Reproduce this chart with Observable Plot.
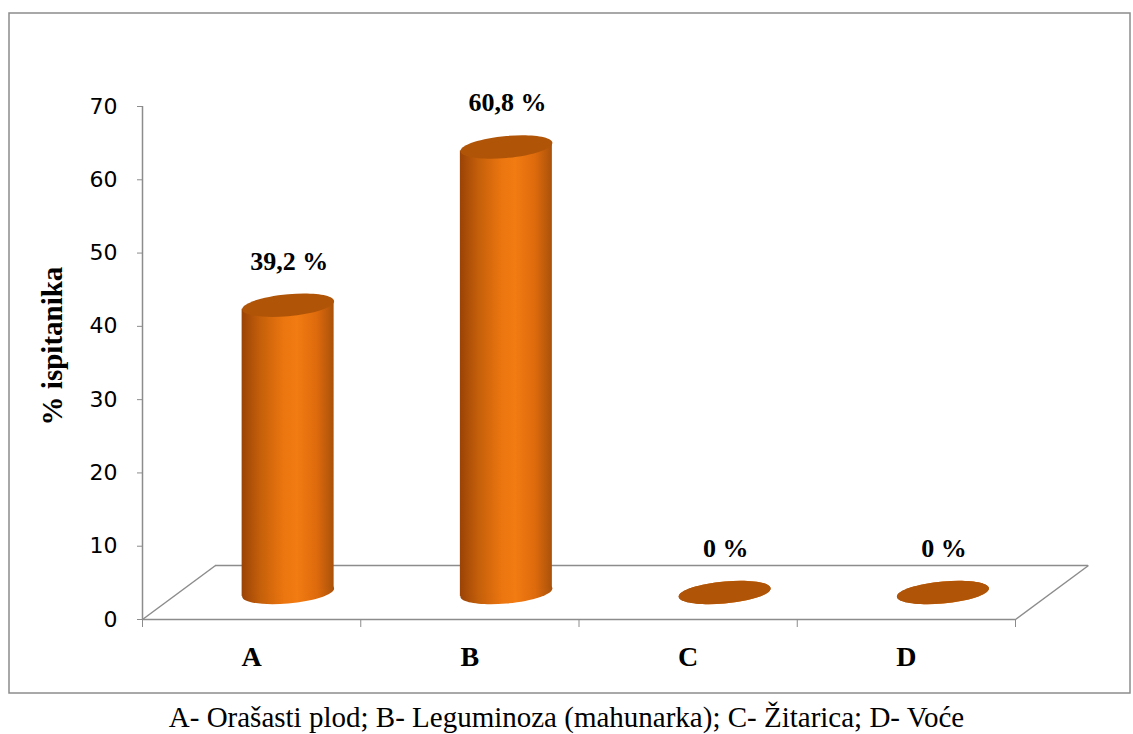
<!DOCTYPE html>
<html><head><meta charset="utf-8">
<script src="https://cdn.jsdelivr.net/npm/d3@7"></script>
<script src="https://cdn.jsdelivr.net/npm/@observablehq/plot@0.6"></script>
<style>
body{margin:0;background:#fff;width:1133px;height:734px;overflow:hidden}
#caption{position:absolute;top:700px;left:0;width:1133px;text-align:center;font-family:"Liberation Serif",serif;font-size:29px;color:#000;line-height:34px;white-space:nowrap}
</style></head>
<body>
<div id="chart"></div>
<div id="caption"></div>
<script>
// ---- data ----
const categories = ["A", "B", "C", "D"];
const values = [39.2, 60.8, 0, 0];
const valueLabels = ["39,2 %", "60,8 %", "0 %", "0 %"];
const yTicks = [0, 10, 20, 30, 40, 50, 60, 70];
const yLabel = "% ispitanika";
const captionText = "A- Orašasti plod; B- Leguminoza (mahunarka); C- Žitarica; D- Voće";

// ---- layout ----
const W = 1133, H = 698;
const mL = 142, mR = 118, mT = 106, mB = 79;
const pxPerX = (W - mL - mR) / categories.length;
const pxPerY = (H - mT - mB) / 70;
const depthX = 73, depthY = 54;          // floor depth in px
const halfW = 46;                         // cylinder radius in px
const tilt = Math.tan(5 * Math.PI / 180); // slant of the ellipses
const gray = "#8c8c8c";

const rows = categories.map((c, i) => ({cat: c, pos: i + 0.5, value: values[i], label: valueLabels[i]}));
const edges = [0, categories.length];

// cylinder sides as slanted quads (left and right edge of each cylinder)
const slantY = halfW * tilt / pxPerY;
const sides = rows.flatMap(d => [
  {cat: d.cat, x: d.pos - halfW / pxPerX, y1: -slantY, y2: d.value - slantY},
  {cat: d.cat, x: d.pos + halfW / pxPerX, y1: slantY, y2: d.value + slantY}
]);

// slanted ellipse symbol (top / bottom of cylinders)
const ellipse = {
  draw(ctx) {
    const rx = halfW, ry = 11, k = 0.5523;
    const p = (x, y) => [x, y - x * tilt];
    const m = p(rx, 0); ctx.moveTo(m[0], m[1]);
    const segs = [
      [[rx, k * ry], [k * rx, ry], [0, ry]],
      [[-k * rx, ry], [-rx, k * ry], [-rx, 0]],
      [[-rx, -k * ry], [-k * rx, -ry], [0, -ry]],
      [[k * rx, -ry], [rx, -k * ry], [rx, 0]]
    ];
    for (const s of segs) {
      const c1 = p(...s[0]), c2 = p(...s[1]), e = p(...s[2]);
      ctx.bezierCurveTo(c1[0], c1[1], c2[0], c2[1], e[0], e[1]);
    }
    ctx.closePath();
  }
};

const bx = depthX / 2, by = -depthY / 2;
const serif = "Liberation Serif";

const plot = Plot.plot({
  width: W, height: H,
  marginLeft: mL, marginRight: mR, marginTop: mT, marginBottom: mB,
  x: {domain: [0, categories.length], axis: null},
  y: {domain: [0, 70], axis: null},
  style: {background: "#fff", overflow: "visible"},
  marks: [
    // outer border of chart area
    Plot.frame({stroke: gray, strokeWidth: 1.5,
      insetLeft: -(mL - 8.5), insetTop: -(mT - 12.5), insetRight: -(1129.5 - (W - mR)), insetBottom: -(692.5 - (H - mB))}),
    // floor
    Plot.ruleY([0], {stroke: gray, strokeWidth: 1.5}),
    Plot.ruleY([0], {stroke: gray, strokeWidth: 1.5, dx: depthX, dy: -depthY}),
    Plot.link(edges, {x1: d => d, y1: 0, x2: d => d + depthX / pxPerX, y2: depthY / pxPerY, stroke: gray, strokeWidth: 1.5}),
    // y axis
    Plot.ruleX([0], {y1: 0, y2: 70, stroke: gray, strokeWidth: 1.5}),
    Plot.axisY({ticks: yTicks, tickSize: 5, tickPadding: 20, stroke: gray, fill: "#000",
      fontSize: 22, fontFamily: "DejaVu Sans", label: null}),
    Plot.text([yLabel], {frameAnchor: "left", textAnchor: "middle", rotate: -90, dx: -90, dy: -17,
      fontSize: 29, fontWeight: "bold", fontFamily: serif, fill: "#000"}),
    // x axis ticks at category boundaries
    Plot.axisX({ticks: d3.range(categories.length + 1), tickSize: 8, tickFormat: () => "", stroke: gray, label: null}),
    Plot.text(rows, {x: "pos", y: 0, dy: 38, text: "cat", fontSize: 28, fontWeight: "bold", fontFamily: serif, fill: "#000"}),
    // cylinders
    Plot.dot(rows, {x: "pos", y: 0, dx: bx, dy: by, symbol: ellipse, fill: "url(#cylGrad)"}),
    Plot.areaY(sides, {x: "x", y1: "y1", y2: "y2", z: "cat", dx: bx, dy: by, fill: "url(#cylGrad)"}),
    Plot.dot(rows, {x: "pos", y: "value", dx: bx, dy: by, symbol: ellipse, fill: "#B05508"}),
    // value labels
    Plot.text(rows, {x: "pos", y: "value", dx: bx + 1, dy: -71, text: "label",
      fontSize: 26, fontWeight: "bold", fontFamily: serif, fill: "#000"})
  ]
});

// gradient for the cylinder sides
const ns = "http://www.w3.org/2000/svg";
const defs = document.createElementNS(ns, "defs");
const grad = document.createElementNS(ns, "linearGradient");
grad.setAttribute("id", "cylGrad");
grad.setAttribute("x1", "0"); grad.setAttribute("x2", "1");
grad.setAttribute("y1", "0"); grad.setAttribute("y2", "0");
[["0%", "#9A4306"], ["20%", "#C45F0A"], ["45%", "#EB750F"], ["60%", "#F27B12"], ["82%", "#DD6A0C"], ["100%", "#A9520A"]]
  .forEach(([o, c]) => {
    const s = document.createElementNS(ns, "stop");
    s.setAttribute("offset", o); s.setAttribute("stop-color", c);
    grad.appendChild(s);
  });
defs.appendChild(grad);
plot.insertBefore(defs, plot.firstChild);

document.getElementById("chart").appendChild(plot);
document.getElementById("caption").textContent = captionText;
</script>
</body></html>
